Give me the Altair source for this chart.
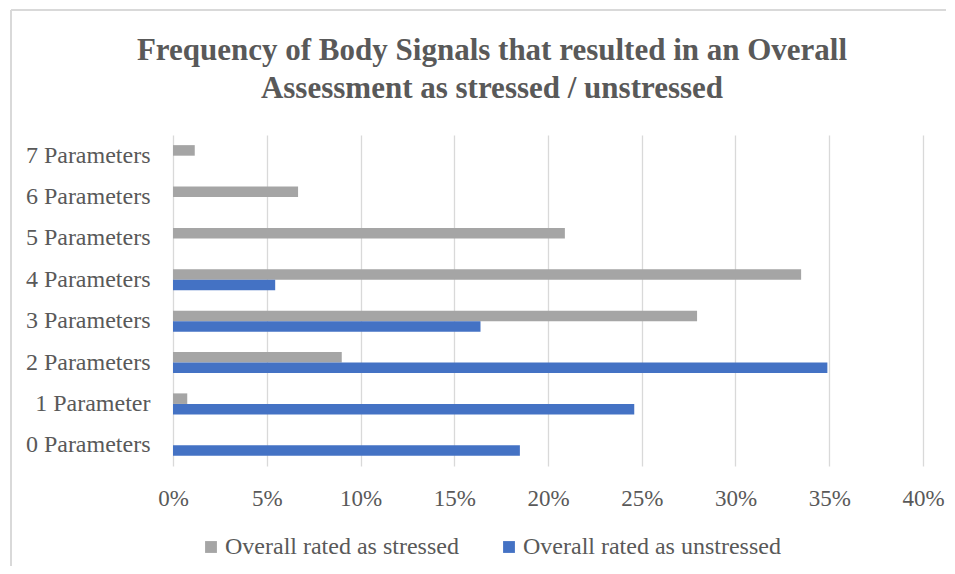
import altair as alt
import pandas as pd

categories = ["7 Parameters", "6 Parameters", "5 Parameters", "4 Parameters",
              "3 Parameters", "2 Parameters", "1 Parameter", "0 Parameters"]
stressed = [0.0116, 0.0667, 0.209, 0.335, 0.2795, 0.090, 0.0076, 0.0]
unstressed = [0.0, 0.0, 0.0, 0.0545, 0.164, 0.349, 0.246, 0.185]
series = ["Overall rated as stressed", "Overall rated as unstressed"]
colors = ["#a5a5a5", "#4472c4"]
x_ticks = [0, 0.05, 0.10, 0.15, 0.20, 0.25, 0.30, 0.35, 0.40]

rows = []
for c, s, u in zip(categories, stressed, unstressed):
    rows.append({"cat": c, "series": series[0], "value": s})
    rows.append({"cat": c, "series": series[1], "value": u})
df = pd.DataFrame(rows)

FONT = "Liberation Serif"
TXT = "#595959"

bars = alt.Chart(df).mark_bar().encode(
    y=alt.Y("cat:N", sort=categories, title=None,
            scale=alt.Scale(paddingInner=0.49, paddingOuter=0.245),
            axis=alt.Axis(ticks=False, domain=False, labelFontSize=24,
                          labelFont=FONT, labelColor=TXT, labelPadding=23)),
    yOffset=alt.YOffset("series:N", sort=series),
    x=alt.X("value:Q", title=None,
            scale=alt.Scale(domain=[0, 0.4], nice=False),
            axis=alt.Axis(values=x_ticks, format=".0%", ticks=False, domain=False,
                          grid=True, gridColor="#d9d9d9", gridWidth=1.3,
                          labelFontSize=23, labelFont=FONT, labelColor=TXT,
                          labelPadding=21, labelFlush=False)),
    color=alt.Color("series:N", sort=series,
                    scale=alt.Scale(domain=series, range=colors),
                    legend=alt.Legend(title=None, orient="none", direction="horizontal",
                                      legendX=26, legendY=400, symbolType="square",
                                      symbolSize=140, symbolStrokeWidth=0,
                                      labelFont=FONT, labelFontSize=24, labelLimit=0,
                                      labelColor=TXT, columnPadding=38,
                                      labelOffset=2)),
)

frame_df = pd.DataFrame({"k": [0]})
top_line = alt.Chart(frame_df).mark_rule(color="#d9d9d9", strokeWidth=2).encode(
    x=alt.value(-162), x2=alt.value(773), y=alt.value(-125))
left_line = alt.Chart(frame_df).mark_rule(color="#d9d9d9", strokeWidth=2).encode(
    x=alt.value(-162), y=alt.value(-125), y2=alt.value(431))

chart = alt.layer(top_line, left_line, bars).properties(
    width=750, height=331,
    background="white",
    title=alt.Title(["Frequency of Body Signals that resulted in an Overall",
                     "Assessment as stressed / unstressed"],
                    font=FONT, fontSize=31, fontWeight="bold", color=TXT,
                    anchor="middle", dx=-56, dy=126, offset=30, lineHeight=38),
    autosize=alt.AutoSizeParams(type="none"),
    padding={"left": 165, "top": 127, "right": 24, "bottom": 100},
).configure_view(stroke=None)

chart.save("out.html", embed_options={"renderer": "svg", "actions": False})
